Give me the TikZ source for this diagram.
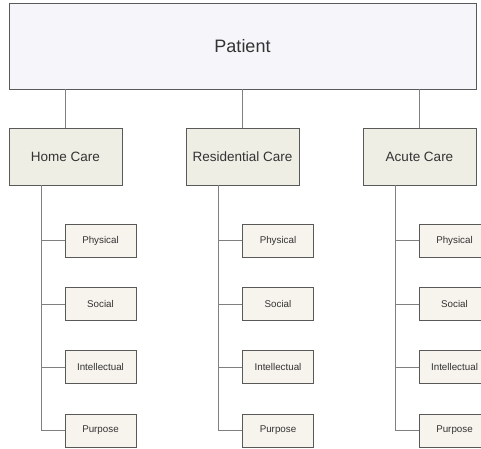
\documentclass[tikz,border=0pt]{standalone}
\usepackage{fontspec}
\setmainfont{Liberation Sans}
\begin{document}
\begin{tikzpicture}[x=1pt,y=-1pt,
  boxline/.style={draw=black!65, line width=0.9pt, text=black!80},
  topbox/.style={boxline, fill={rgb,255:red,246;green,246;blue,250}, minimum width=467pt, minimum height=86pt, font=\fontsize{18}{20}\selectfont},
  carebox/.style={boxline, fill={rgb,255:red,238;green,238;blue,228}, minimum width=113pt, minimum height=57pt, inner sep=1pt, font=\fontsize{13.5}{15}\selectfont},
  aspectbox/.style={boxline, fill={rgb,255:red,247;green,243;blue,237}, minimum width=71pt, minimum height=33pt, inner sep=1pt, font=\fontsize{9.8}{11}\selectfont},
  link/.style={draw=black!50, line width=0.9pt}]
\useasboundingbox (0,0) rectangle (481,448);
\clip (0,0) rectangle (481,448);
\fill[white] (0,0) rectangle (481,448);

% root
\node[topbox] (patient) at (242.5,46) {Patient};

% care settings
\node[carebox] (home) at (65.5,156.5) {Home Care};
\node[carebox] (resi) at (242.5,156.5) {Residential Care};
\node[carebox] (acute) at (419.5,156.5) {Acute Care};

\foreach \c in {home,resi,acute}
  \draw[link] (patient.south -| \c.north) -- (\c.north);

% aspects under each setting
\foreach \c/\x in {home/100.5,resi/278,acute/454.5}{
  \node[aspectbox] (\c-phys) at (\x,240.5) {Physical};
  \node[aspectbox] (\c-soc) at (\x,304) {Social};
  \node[aspectbox] (\c-int) at (\x,367) {Intellectual};
  \node[aspectbox] (\c-pur) at (\x,430.5) {Purpose};
  \coordinate (\c-trunk) at ([xshift=-24.5pt]\c.south);
  \draw[link] (\c-trunk) |- (\c-pur.west);
  \foreach \a in {phys,soc,int}
    \draw[link] (\c-trunk |- \c-\a.west) -- (\c-\a.west);
}
\end{tikzpicture}
\end{document}
